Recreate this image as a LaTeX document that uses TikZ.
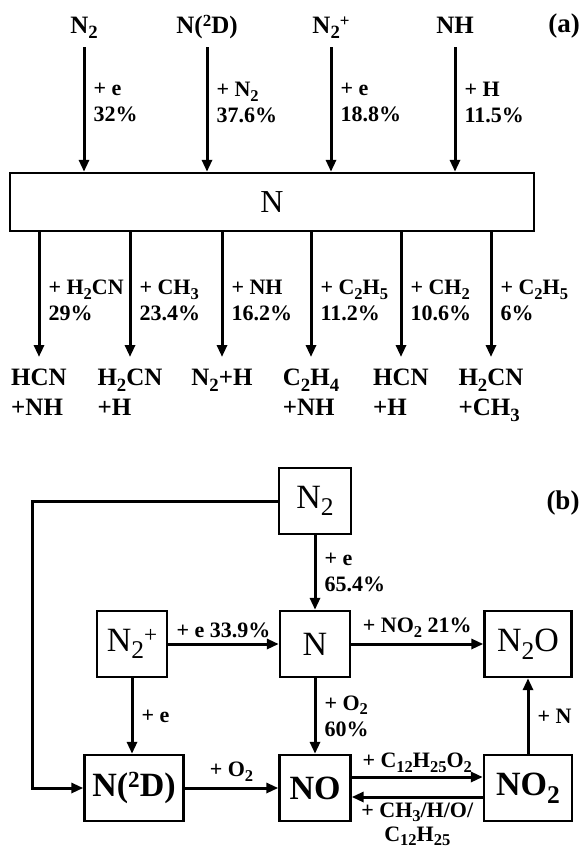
\documentclass[tikz,border=0pt]{standalone}
\usepackage{fontspec}
\setmainfont{Liberation Serif}
\usepackage{graphicx}
\usepackage{tikz}
\usetikzlibrary{arrows.meta, positioning}

\newcommand{\chsub}[1]{\raisebox{-0.22em}{\scalebox{0.75}{#1}}}
\newcommand{\chsup}[1]{\raisebox{0.26em}{\scalebox{0.68}{#1}}}

\begin{document}
\begin{tikzpicture}[x=1pt, y=-1pt,
  species/.style={font=\fontsize{25}{30}\selectfont\bfseries, align=left, inner sep=0pt},
  rate/.style={font=\fontsize{22}{26}\selectfont\bfseries, align=left, inner sep=0pt},
  box/.style={draw, line width=2.4pt, minimum height=66pt, inner sep=0pt,
              font=\fontsize{34}{36}\selectfont},
  arrow/.style={-{Triangle[length=12pt, width=10pt]}, line width=3pt},
  panel/.style={font=\fontsize{27}{30}\selectfont\bfseries}
]
  \useasboundingbox (0,0) rectangle (586,854);

  % (a)
  \node[panel] (pa) at (564,26) {(a)};
  \node[box, minimum width=524pt, minimum height=58pt, font=\fontsize{32}{34}\selectfont] (mainN) at (272,202) {N};

  \node[species, anchor=base] (tN2) at (84,33) {N\chsub{2}};
  \node[species, anchor=base] (tN2D) at (207,33) {N(\chsup{2}D)};
  \node[species, anchor=base] (tN2p) at (331,33) {N\chsub{2}\chsup{+}};
  \node[species, anchor=base] (tNH) at (455,33) {NH};

  \draw[arrow, shorten <=14pt] (tN2.base) -- node[rate, right=8pt] (rA1) {+ e\\32\%} (tN2.base |- mainN.north);
  \draw[arrow, shorten <=14pt] (tN2D.base) -- node[rate, right=8pt] (rA2) {+ N\chsub{2}\\37.6\%} (tN2D.base |- mainN.north);
  \draw[arrow, shorten <=14pt] (tN2p.base) -- node[rate, right=8pt] (rA3) {+ e\\18.8\%} (tN2p.base |- mainN.north);
  \draw[arrow, shorten <=14pt] (tNH.base) -- node[rate, right=8pt] (rA4) {+ H\\11.5\%} (tNH.base |- mainN.north);

  \node[species, anchor=north] (pA) at (39,369) {HCN\\+NH};
  \node[species, anchor=north] (pB) at (130,369) {H\chsub{2}CN\\+H};
  \node[species, anchor=north] (pC) at (222,369) {N\chsub{2}+H};
  \node[species, anchor=north] (pD) at (311,369) {C\chsub{2}H\chsub{4}\\+NH};
  \node[species, anchor=north] (pE) at (401,369) {HCN\\+H};
  \node[species, anchor=north] (pF) at (491,369) {H\chsub{2}CN\\+CH\chsub{3}};

  \draw[arrow, shorten >=12pt] (mainN.south -| pA) -- node[rate, right=8pt] (rB1) {+ H\chsub{2}CN\\29\%} (pA.north);
  \draw[arrow, shorten >=12pt] (mainN.south -| pB) -- node[rate, right=8pt] (rB2) {+ CH\chsub{3}\\23.4\%} (pB.north);
  \draw[arrow, shorten >=12pt] (mainN.south -| pC) -- node[rate, right=8pt] (rB3) {+ NH\\16.2\%} (pC.north);
  \draw[arrow, shorten >=12pt] (mainN.south -| pD) -- node[rate, right=8pt] (rB4) {+ C\chsub{2}H\chsub{5}\\11.2\%} (pD.north);
  \draw[arrow, shorten >=12pt] (mainN.south -| pE) -- node[rate, right=8pt] (rB5) {+ CH\chsub{2}\\10.6\%} (pE.north);
  \draw[arrow, shorten >=12pt] (mainN.south -| pF) -- node[rate, right=8pt] (rB6) {+ C\chsub{2}H\chsub{5}\\6\%} (pF.north);

  % (b)
  \node[panel] (pb) at (563,503) {(b)};
  \node[box, minimum width=72pt] (N2b) at (315,501) {N\chsub{2}};
  \node[box, minimum width=70pt] (N2pb) at (132,644) {N\chsub{2}\chsup{+}};
  \node[box, minimum width=70pt] (Nb) at (315,644) {N};
  \node[box, minimum width=87pt] (N2Ob) at (528,644) {N\chsub{2}O};
  \node[box, minimum width=99pt, font=\fontsize{34}{36}\selectfont\bfseries] (N2Db) at (134,788) {N(\chsup{2}D)};
  \node[box, minimum width=71pt, font=\fontsize{34}{36}\selectfont\bfseries] (NOb) at (315,788) {NO};
  \node[box, minimum width=88pt, font=\fontsize{34}{36}\selectfont\bfseries] (NO2b) at (528,788) {NO\chsub{2}};
  \coordinate (lft) at (32,501);

  \draw[arrow] (N2b.west) -- (lft) |- (N2Db.west);
  \draw[arrow] (N2b) -- node[rate, right=8pt] (rC1) {+ e\\65.4\%} (Nb);
  \draw[arrow] (N2pb) -- node[rate, above=5pt] (rC2) {+ e 33.9\%} (Nb);
  \draw[arrow] (Nb) -- node[rate, above=5pt] (rC3) {+ NO\chsub{2} 21\%} (N2Ob);
  \draw[arrow] (N2pb) -- node[rate, right=8pt] (rC4) {+ e} (N2pb |- N2Db.north);
  \draw[arrow] (Nb) -- node[rate, right=8pt] (rC5) {+ O\chsub{2}\\60\%} (NOb);
  \draw[arrow] (N2Db) -- node[rate, above=5pt] (rC6) {+ O\chsub{2}} (NOb);
  \draw[arrow] ([yshift=11pt]NOb.east) -- node[rate, above=3pt] (rC7) {+ C\chsub{12}H\chsub{25}O\chsub{2}} ([yshift=11pt]NO2b.west);
  \draw[arrow] ([yshift=-9pt]NO2b.west) -- node[rate, below=4pt, align=center, font=\fontsize{22}{24}\selectfont\bfseries] (rC8) {+ CH\chsub{3}/H/O/\\C\chsub{12}H\chsub{25}} ([yshift=-9pt]NOb.east);
  \draw[arrow] (NO2b) -- node[rate, right=8pt] (rC9) {+ N} (N2Ob);
\end{tikzpicture}
\end{document}
